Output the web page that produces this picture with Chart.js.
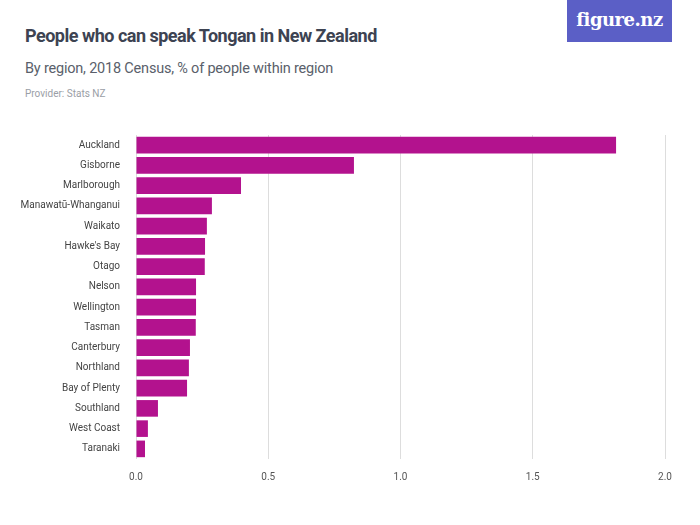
<!DOCTYPE html>
<html>
<head>
<meta charset="utf-8">
<script src="https://cdn.jsdelivr.net/npm/chart.js@4"></script>
<style>
  body { margin: 0; background: #fff; font-family: Roboto, sans-serif; }
  #wrap { position: relative; width: 700px; height: 525px; }
  #title { position: absolute; left: 25px; top: 25px; font-size: 18px; font-weight: bold; color: #3d4352; letter-spacing: -0.5px; }
  #sub { position: absolute; left: 25px; top: 60px; font-size: 14.5px; color: #5a5f6b; letter-spacing: -0.2px; }
  #prov { position: absolute; left: 25px; top: 88px; font-size: 10px; color: #9a9ea6; }
  #logo { position: absolute; left: 567px; top: 0; width: 105px; height: 42px; background: #5b5fc6; color: #fff;
          font-family: "DejaVu Serif", serif; font-size: 18px; font-weight: bold; text-align: center; line-height: 40px; letter-spacing: -0.5px; }
  #box { position: absolute; left: 0; top: 121px; width: 700px; height: 374px; }
</style>
</head>
<body>
<div id="wrap">
  <div id="title">People who can speak Tongan in New Zealand</div>
  <div id="sub">By region, 2018 Census, % of people within region</div>
  <div id="prov">Provider: Stats NZ</div>
  <div id="logo">figure.nz</div>
  <div id="box"><canvas id="c"></canvas></div>
</div>
<script>
const regions = ['Auckland', 'Gisborne', 'Marlborough', 'Manawatū-Whanganui', 'Waikato', "Hawke's Bay", 'Otago',
  'Nelson', 'Wellington', 'Tasman', 'Canterbury', 'Northland', 'Bay of Plenty', 'Southland', 'West Coast', 'Taranaki'];
const percent = [1.815, 0.824, 0.397, 0.287, 0.268, 0.261, 0.26, 0.227, 0.227, 0.226, 0.204, 0.2, 0.193, 0.083, 0.045, 0.034];
const xTicks = [0, 0.5, 1, 1.5, 2];

new Chart(document.getElementById('c'), {
  type: 'bar',
  data: {
    labels: regions,
    datasets: [{ data: percent, backgroundColor: '#b3128e', barPercentage: 0.82, categoryPercentage: 1 }]
  },
  options: {
    indexAxis: 'y',
    responsive: true,
    maintainAspectRatio: false,
    animation: false,
    layout: { padding: { left: 0, right: 35, top: 0, bottom: 0 } },
    plugins: { legend: { display: false }, tooltip: { enabled: false } },
    scales: {
      x: {
        min: 0, max: 2,
        afterBuildTicks: a => { a.ticks = xTicks.map(v => ({ value: v })); },
        ticks: { color: '#555', font: { family: 'Roboto', size: 10 }, padding: 12, callback: v => v.toFixed(1) },
        grid: { color: '#dddddd', drawTicks: false },
        border: { display: false }
      },
      y: {
        ticks: { color: '#444', font: { family: 'Roboto', size: 10 }, padding: 8 },
        grid: { display: false },
        border: { display: false },
        afterFit: a => { a.width = 136; }
      }
    }
  }
});
</script>
</body>
</html>
